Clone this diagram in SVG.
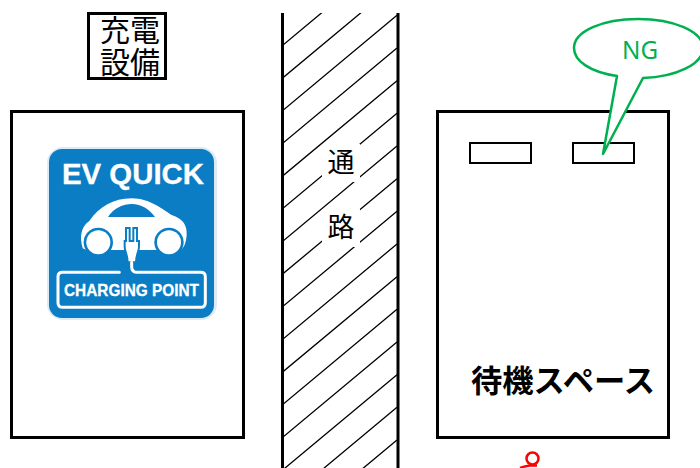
<svg xmlns="http://www.w3.org/2000/svg" width="700" height="468" viewBox="0 0 700 468">
<style>
.box{fill:#fff;stroke:#000;stroke-width:3}
.slot{fill:#fff;stroke:#000;stroke-width:2}
.wall{stroke:#000;stroke-width:3;fill:none}
.hatch{stroke:#000;stroke-width:1.300;fill:none}
.jp{font-family:"Noto Sans CJK JP","Noto Sans",sans-serif;fill:#000}
.sign{font-family:"Liberation Sans",Arial,sans-serif;font-weight:bold;fill:#fff;stroke:#fff;stroke-width:.3}
</style>
<defs><clipPath id="road"><rect x="283" y="13" width="115" height="455"/></clipPath></defs>
<rect width="700" height="468" fill="#fff"/>
<g id="equipment-label">
<rect class="box" x="88.500" y="13.500" width="77" height="65"/>
<text class="jp" font-size="30"><tspan x="100" y="41">充電</tspan><tspan x="100" y="73">設備</tspan></text>
</g>
<g id="charging-space">
<rect class="box" x="11.500" y="111.500" width="232" height="326"/>
<g id="ev-sign">
<rect x="47" y="147" width="170" height="173" rx="16" fill="#dcebf6"/>
<rect x="49" y="149" width="165" height="169" rx="13" fill="#0a7dc4"/>
<text class="sign" x="62" y="184" font-size="29.500" textLength="142" lengthAdjust="spacingAndGlyphs">EV QUICK</text>
<g transform="translate(30 135) scale(.3333)">
<path fill="#fff" d="M158 340C148 305 153 275 178 258C208 215 250 190 305 190C360 190 400 225 425 240C458 250 472 270 470 300C468 325 462 338 452 345H170Z"/>
<path fill="#0a7dc4" d="M234 246C250 220 280 207 305 207C335 207 360 225 375 246Z"/>
<circle cx="205" cy="322" r="44" fill="#0a7dc4"/>
<circle cx="417" cy="322" r="44" fill="#0a7dc4"/>
<circle cx="205" cy="322" r="36" fill="#fff"/>
<circle cx="417" cy="322" r="36" fill="#fff"/>
<rect x="249" y="345" width="124" height="20" fill="#0a7dc4"/>
<path fill="#fff" stroke="#0a7dc4" stroke-width="6" d="M288 318V279H299V318H310V279H321V318H327V335C327 350 318 358 318 382H293C293 358 284 350 284 335V318Z"/>
<path fill="none" stroke="#fff" stroke-width="9" stroke-linecap="round" d="M305 382V395Q305 412 322 412H512Q526 412 526 425V503Q526 517 512 517H98Q84 517 84 503V425Q84 412 98 412H268"/>
</g>
<text class="sign" x="64" y="296" font-size="16.500" textLength="135" lengthAdjust="spacingAndGlyphs">CHARGING POINT</text>
</g>
</g>
<g id="aisle">
<g clip-path="url(#road)" class="hatch">
<path d="M283 45L397 -50M283 77.700L397 -17.300M283 110.300L397 15.300M283 143L397 48M283 175.700L397 80.700M283 208.300L397 113.300M283 241L397 146M283 273.700L397 178.700M283 306.300L397 211.300M283 339L397 244M283 371.700L397 276.700M283 404.300L397 309.300M283 437L397 342M283 469.700L397 374.700M283 502.300L397 407.300M283 535L397 440M283 567.700L397 472.700"/>
</g>
<path class="wall" d="M282.500 13V468M398 13V468"/>
<rect x="322" y="144" width="38" height="38" fill="#fff"/>
<rect x="322" y="209" width="38" height="38" fill="#fff"/>
<text class="jp" x="341" y="172" font-size="27" text-anchor="middle">通</text>
<text class="jp" x="341" y="237" font-size="27" text-anchor="middle">路</text>
</g>
<g id="waiting-space">
<rect class="box" x="437.500" y="111.500" width="231" height="326"/>
<rect class="slot" x="470" y="143" width="61" height="20"/>
<rect class="slot" x="573" y="143" width="61" height="20"/>
<text class="jp" x="471" y="392" font-size="31" font-weight="700" textLength="184" lengthAdjust="spacingAndGlyphs">待機スペース</text>
</g>
<g id="ng-callout">
<path fill="#fff" stroke="#00b050" stroke-width="2.500" stroke-linejoin="round" d="M617 76C590 72 574 61 574 48C574 31 603 19 638 19C673 19 703 31 703 48C703 64 676 77 643 78L603 154Z"/>
<text x="640" y="59" font-family="'Noto Sans','Open Sans',sans-serif" font-size="24.500" text-anchor="middle" fill="#00b050" textLength="36" lengthAdjust="spacingAndGlyphs">NG</text>
</g>
<g id="person">
<circle cx="532.500" cy="458.500" r="6" fill="#fff" stroke="#f00" stroke-width="2.500"/>
<path d="M520 468Q525 466 530 465.500H537" fill="none" stroke="#f00" stroke-width="2.500"/>
</g>
</svg>
